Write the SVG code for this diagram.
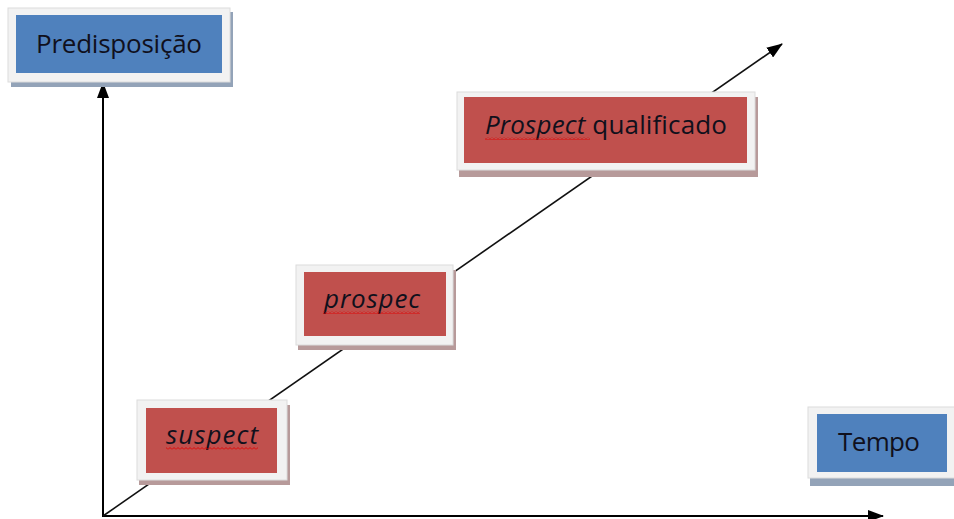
<svg xmlns="http://www.w3.org/2000/svg" width="954" height="519" viewBox="0 0 954 519">
<defs>
<marker id="arr" markerWidth="16" markerHeight="12" refX="15" refY="6" orient="auto" markerUnits="userSpaceOnUse">
<path d="M0,0 L16,6 L0,12 Z" fill="#000"/>
</marker>
<pattern id="wave" width="4" height="3" patternUnits="userSpaceOnUse">
<path d="M0,2.5 L2,0.5 L4,2.5" fill="none" stroke="#e00000" stroke-width="0.9"/>
</pattern>
</defs>
<style>
.frame{fill:#f2f2f2;stroke:#dcdcdc;stroke-width:1}
.shb{fill:#93a3b8}
.shr{fill:#b79a9a}
.blue{fill:#4f81bd}
.red{fill:#c0504d}
.t{font-family:"Open Sans","Liberation Sans",sans-serif;font-size:26px;fill:#10101c;text-anchor:middle}
.i{font-style:italic}
.ax{stroke:#000;stroke-width:2;fill:none}
.dg{stroke:#111;stroke-width:1.6;fill:none}
</style>
<rect width="954" height="519" fill="#fff"/>
<g id="connectors">
<line class="ax" x1="103" y1="517" x2="103" y2="83" marker-end="url(#arr)"/>
<line class="ax" x1="102" y1="516" x2="883" y2="516" marker-end="url(#arr)"/>
<line class="dg" x1="103" y1="516" x2="782" y2="44" marker-end="url(#arr)"/>
</g>
<g id="predisposicao">
<rect class="shb" x="11" y="12" width="222" height="75"/>
<rect class="frame" x="8" y="8" width="222" height="74"/>
<rect class="blue" x="16" y="15" width="206" height="58"/>
<text class="t" x="119" y="53" textLength="166">Predisposição</text>
</g>
<g id="prospect-qualificado">
<rect class="shr" x="459" y="97" width="299" height="80"/>
<rect class="frame" x="457" y="92" width="298" height="78"/>
<rect class="red" x="464" y="97" width="283" height="66"/>
<text class="t" x="606" y="134" textLength="242"><tspan class="i">Prospect</tspan> qualificado</text>
<rect x="485" y="137" width="105" height="3" fill="url(#wave)"/>
</g>
<g id="prospec">
<rect class="shr" x="298" y="270" width="158" height="80"/>
<rect class="frame" x="296" y="265" width="157" height="80"/>
<rect class="red" x="304" y="272" width="142" height="64"/>
<text class="t i" x="372" y="308" textLength="96">prospec</text>
<rect x="323" y="311" width="97" height="3" fill="url(#wave)"/>
</g>
<g id="suspect">
<rect class="shr" x="139" y="405" width="151" height="80"/>
<rect class="frame" x="137" y="400" width="150" height="80"/>
<rect class="red" x="146" y="408" width="131" height="65"/>
<text class="t i" x="212" y="444" textLength="92">suspect</text>
<rect x="166" y="447" width="92" height="3" fill="url(#wave)"/>
</g>
<g id="tempo">
<rect class="shb" x="810" y="412" width="150" height="74"/>
<rect class="frame" x="808" y="407" width="150" height="71"/>
<rect class="blue" x="817" y="414" width="130" height="58"/>
<text class="t" x="879" y="451" textLength="82">Tempo</text>
</g>
</svg>
